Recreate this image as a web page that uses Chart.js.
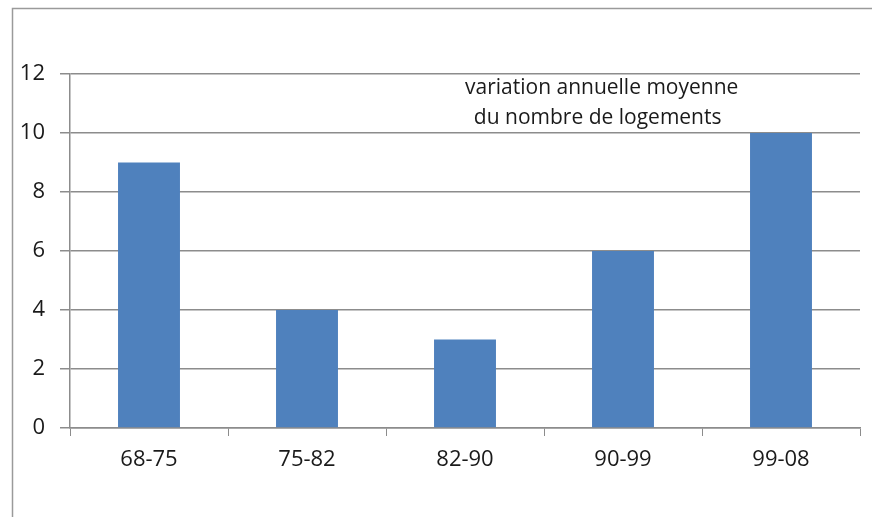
<!DOCTYPE html>
<html>
<head>
<meta charset="utf-8">
<script src="https://cdn.jsdelivr.net/npm/chart.js@4/dist/chart.umd.min.js"></script>
<style>
  html, body { margin: 0; padding: 0; background: #fff; }
  #wrap { width: 872px; height: 517px; }
</style>
</head>
<body>
<div id="wrap"><canvas id="myChart" width="872" height="517"></canvas></div>
<script>
// data
const periods = ["68-75", "75-82", "82-90", "90-99", "99-08"];
const housingGrowth = [9, 4, 3, 6, 10];
const yTicks = [0, 2, 4, 6, 8, 10, 12];
const noteLines = ["variation annuelle moyenne", "du nombre de logements"];

const GRID = "#8c8c8c";
const FONT = "'Open Sans', sans-serif";

// frame around the picture + text box
const extras = {
  id: "extras",
  afterDraw(chart) {
    const c = chart.ctx;
    const a = chart.chartArea;
    c.save();
    c.strokeStyle = "#9a9a9a";
    c.lineWidth = 1.5;
    c.beginPath();
    c.moveTo(12.5, 517);
    c.lineTo(12.5, 8.5);
    c.lineTo(872, 8.5);
    c.stroke();

    c.fillStyle = "#1a1a1a";
    c.font = "21px " + FONT;
    c.textAlign = "center";
    c.textBaseline = "middle";
    const cx = a.left + (a.right - a.left) * 0.673;
    c.fillText(noteLines[0], cx, 88);
    c.fillText(noteLines[1], cx - 4, 118);
    c.restore();
  }
};

new Chart(document.getElementById("myChart"), {
  type: "bar",
  data: {
    labels: periods,
    datasets: [{
      data: housingGrowth,
      backgroundColor: "#4f81bd",
      barPercentage: 0.8,
      categoryPercentage: 0.49
    }]
  },
  options: {
    responsive: false,
    animation: false,
    layout: { padding: { top: 74, right: 12, left: 0, bottom: 0 } },
    plugins: { legend: { display: false }, tooltip: { enabled: false } },
    scales: {
      x: {
        afterFit(s) { s.height = 89; },
        grid: { drawOnChartArea: false, drawTicks: true, tickLength: 8, color: GRID, offset: true },
        border: { color: GRID, width: 1.5 },
        ticks: { color: "#1a1a1a", font: { family: FONT, size: 22 }, padding: 11 }
      },
      y: {
        min: 0,
        max: 12,
        afterFit(s) { s.width = 70; },
        afterBuildTicks(s) { s.ticks = yTicks.map(v => ({ value: v })); },
        grid: { color: GRID, lineWidth: 1.5, tickLength: 10 },
        border: { color: GRID, width: 1.5 },
        ticks: { color: "#1a1a1a", font: { family: FONT, size: 22 }, padding: 15 }
      }
    }
  },
  plugins: [extras]
});
</script>
</body>
</html>
